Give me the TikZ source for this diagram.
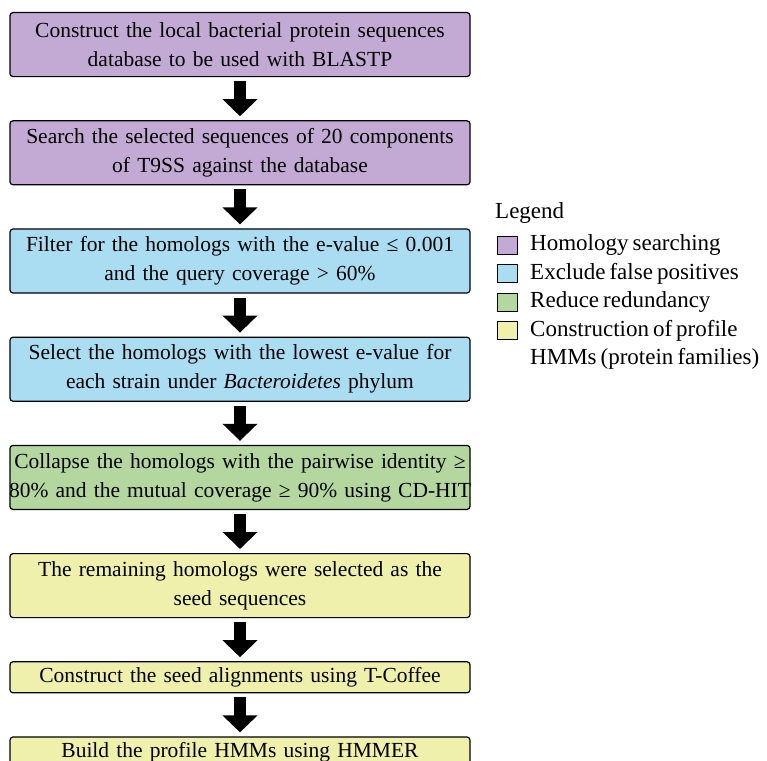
\documentclass[tikz,border=0pt]{standalone}
\usepackage{fontspec}
\setmainfont{Liberation Serif}[WordSpace=0.7]
\usetikzlibrary{arrows.meta,positioning}
\definecolor{HomPurple}{RGB}{195,170,212}
\definecolor{FalseBlue}{RGB}{170,221,242}
\definecolor{RedGreen}{RGB}{180,215,160}
\definecolor{ProfYellow}{RGB}{238,240,172}

\begin{document}
\begin{tikzpicture}[x=1pt, y=-1pt, node distance=43pt, every node/.style={font=\fontsize{21.5}{29}\selectfont}, box/.style={draw=black,line width=1.2pt,rounded corners=3pt,text width=472pt,align=center,inner xsep=-6pt,inner ysep=2pt}, two/.style={minimum height=64pt}, one/.style={minimum height=31pt}, flow/.style={line width=12pt,-{Triangle[width=34pt,length=17pt]},shorten <=4pt,shorten >=4pt}, key/.style={draw=black,line width=0.8pt,minimum width=20pt,minimum height=18pt,inner sep=0pt}, keytext/.style={anchor=west,font=\fontsize{23}{28.5}\selectfont,inner sep=0pt}]
\useasboundingbox (0,0) rectangle (767,760);
\node[box,two,fill=HomPurple,anchor=north] (1) at (240,12) {Construct the local bacterial protein sequences\\database to be used with BLASTP};
\node[box,two,fill=HomPurple,below=of 1] (2) {Search the selected sequences of 20 components\\of T9SS against the database};
\node[box,two,fill=FalseBlue,below=of 2] (3) {Filter for the homologs with the e-value ≤ 0.001\\and the query coverage > 60\%};
\node[box,two,fill=FalseBlue,below=of 3] (4) {Select the homologs with the lowest e-value for\\each strain under \textit{Bacteroidetes} phylum};
\node[box,two,fill=RedGreen,below=of 4] (5) {Collapse the homologs with the pairwise identity ≥\\80\% and the mutual coverage ≥ 90\% using CD-HIT};
\node[box,two,fill=ProfYellow,below=of 5] (6) {The remaining homologs were selected as the\\seed sequences};
\node[box,one,fill=ProfYellow,below=of 6] (7) {Construct the seed alignments using T-Coffee};
\node[box,one,fill=ProfYellow,below=of 7] (8) {Build the profile HMMs using HMMER};
\draw[flow] (1)--(2);
\draw[flow] (2)--(3);
\draw[flow] (3)--(4);
\draw[flow] (4)--(5);
\draw[flow] (5)--(6);
\draw[flow] (6)--(7);
\draw[flow] (7)--(8);
% legend
\node[keytext] (lg) at (495,213) {Legend};
\node[key,fill=HomPurple] (k1) at (507.5,245) {};
\node[key,fill=FalseBlue] (k2) at (507.5,273.5) {};
\node[key,fill=RedGreen] (k3) at (507.5,302) {};
\node[key,fill=ProfYellow] (k4) at (507.5,330.5) {};
\node[keytext] (t1) at (530,245) {Homology searching};
\node[keytext] (t2) at (530,273.5) {Exclude false positives};
\node[keytext] (t3) at (530,302) {Reduce redundancy};
\node[keytext,align=left] (t4) at (530,344.75) {Construction of profile\\HMMs (protein families)};
\end{tikzpicture}
\end{document}
